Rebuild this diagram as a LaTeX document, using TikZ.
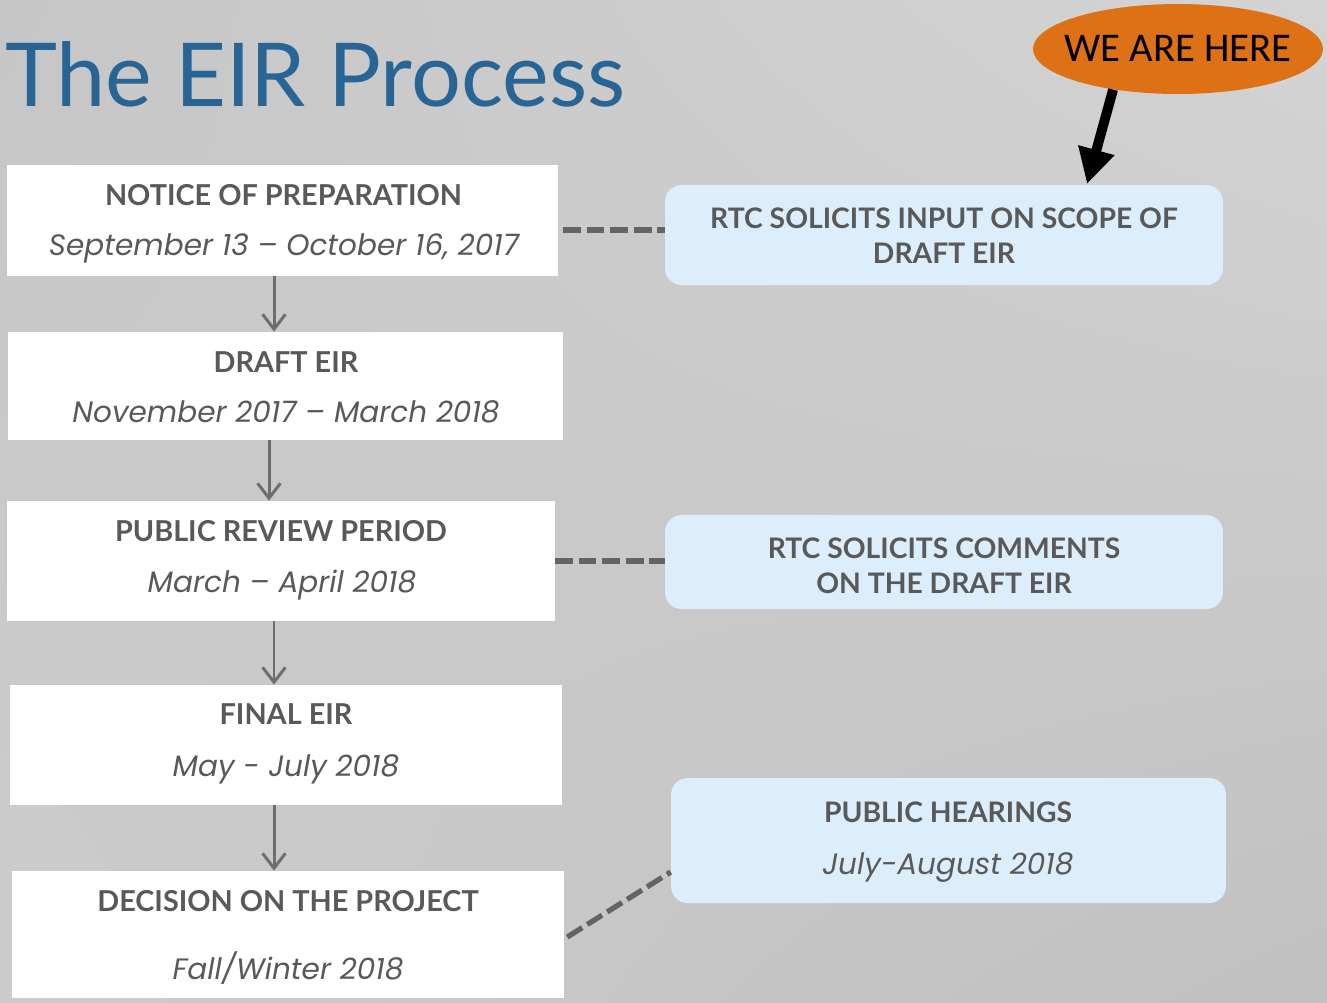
\documentclass[tikz,border=0pt]{standalone}
\usepackage{fontspec}
\usetikzlibrary{arrows.meta,shapes.geometric,shadings}
\newfontfamily\titlefont{Lato}
\newfontfamily\headfont{Lato}
\newfontfamily\datefont{Poppins}
\newfontfamily\herefont{Carlito}
\definecolor{titleblue}{RGB}{40,101,148}
\definecolor{hereorange}{RGB}{222,112,22}
\definecolor{lightblue}{RGB}{220,238,251}
\definecolor{txtgray}{RGB}{89,89,89}
\definecolor{arrgray}{RGB}{110,110,110}
\definecolor{dashgray}{RGB}{100,100,100}
\definecolor{bgA}{RGB}{198,198,198}
\definecolor{bgB}{RGB}{212,212,212}
\definecolor{bgC}{RGB}{204,204,204}
\definecolor{bgD}{RGB}{192,192,192}
\tikzset{
  wbox/.style={rectangle, fill=white, inner sep=0pt},
  bbox/.style={rectangle, rounded corners=9.5pt, fill=lightblue, inner sep=0pt},
  headtxt/.style={anchor=base, inner sep=0pt, text=txtgray, font=\headfont\bfseries\fontsize{16.4}{20}\selectfont},
  datetxt/.style={anchor=base, inner sep=0pt, text=txtgray, font=\datefont\itshape\fontsize{16.8}{20}\selectfont},
  rtxt/.style={anchor=base, inner sep=0pt, text=txtgray, font=\headfont\bfseries\fontsize{16.1}{20}\selectfont},
  garrow/.style={draw=arrgray, line width=1.7pt, -{Straight Barb[length=8.5pt,width=13pt,line width=1.7pt]}},
  dashlink/.style={draw=dashgray, line width=3pt, dash pattern=on 10pt off 3.4pt},
}
\begin{document}
\begin{tikzpicture}[x=0.02cm,y=-0.02cm]
\useasboundingbox (0,0) rectangle (1327,1002);
\shade[upper left=bgA, upper right=bgB, lower left=bgC, lower right=bgD] (0,0) rectangle (1327,1002);

% title
\node[anchor=base west, inner sep=0pt, text=titleblue, font=\titlefont\fontsize{50.2}{56}\selectfont] (title) at (5,106) {The EIR Process};

% we are here
\node[ellipse, fill=hereorange, minimum width=5.8cm, minimum height=1.8cm, inner sep=0pt] (here) at (1178,49) {};
\node[anchor=base, inner sep=0pt, font=\herefont\fontsize{23.2}{28}\selectfont] (heretxt) at (1178,61) {WE ARE HERE};

% left boxes
\node[wbox, minimum width=11.02cm, minimum height=2.22cm] (n1) at (282.5,220.5) {};
\node[wbox, minimum width=11.10cm, minimum height=2.16cm] (n2) at (285.5,386) {};
\node[wbox, minimum width=10.96cm, minimum height=2.40cm] (n3) at (281,561) {};
\node[wbox, minimum width=11.04cm, minimum height=2.40cm] (n4) at (286,745) {};
\node[wbox, minimum width=11.04cm, minimum height=2.54cm] (n5) at (288,934.5) {};

\node[headtxt] (h1) at (283.5,205) {NOTICE OF PREPARATION};
\node[datetxt] (d1) at (284,255) {September 13 – October 16, 2017};
\node[headtxt] (h2) at (286,372) {DRAFT EIR};
\node[datetxt] (d2) at (286,422) {November 2017 – March 2018};
\node[headtxt] (h3) at (281,541) {PUBLIC REVIEW PERIOD};
\node[datetxt] (d3) at (282,592) {March – April 2018};
\node[headtxt] (h4) at (286,724) {FINAL EIR};
\node[datetxt] (d4) at (286,776) {May - July 2018};
\node[headtxt] (h5) at (288,911) {DECISION ON THE PROJECT};
\node[datetxt] (d5) at (288,979) {Fall/Winter 2018};

% right boxes
\node[bbox, minimum width=11.16cm, minimum height=2.00cm] (r1) at (944,235) {};
\node[bbox, minimum width=11.16cm, minimum height=1.88cm] (r2) at (944,562) {};
\node[bbox, minimum width=11.10cm, minimum height=2.50cm] (r3) at (948.5,840.5) {};

\node[rtxt] (r1a) at (944,228) {RTC SOLICITS INPUT ON SCOPE OF};
\node[rtxt] (r1b) at (944,263) {DRAFT EIR};
\node[rtxt] (r2a) at (944,558) {RTC SOLICITS COMMENTS};
\node[rtxt] (r2b) at (944,593) {ON THE DRAFT EIR};
\node[rtxt] (r3a) at (948,822) {PUBLIC HEARINGS};
\node[datetxt] (r3b) at (948,874) {July-August 2018};

% vertical arrows
\draw[garrow] ([xshift=-0.17cm]n1.south) -- ([xshift=-0.17cm]n1.south |- n2.north);
\draw[garrow] ([xshift=-0.33cm]n2.south) -- ([xshift=-0.33cm]n2.south |- n3.north);
\draw[garrow] ([xshift=-0.14cm]n3.south) -- ([xshift=-0.14cm]n3.south |- n4.north);
\draw[garrow] ([xshift=-0.24cm]n4.south) -- ([xshift=-0.24cm]n4.south |- n5.north);

% dashed links
\draw[dashlink] ([xshift=0.1cm,yshift=-0.19cm]n1.east) -- ([yshift=-0.19cm]n1.east -| r1.west);
\draw[dashlink] (n3.east) -- (n3.east -| r2.west);
\draw[dashlink] ([xshift=0.06cm,yshift=-0.05cm]n5.east) -- ([yshift=-0.63cm]r3.west);

% we are here arrow
\coordinate (tip) at (1087,184);
\draw[line width=5.6pt, -{Triangle[length=20pt,width=20pt]}] (here.212) -- (tip);
\end{tikzpicture}
\end{document}
